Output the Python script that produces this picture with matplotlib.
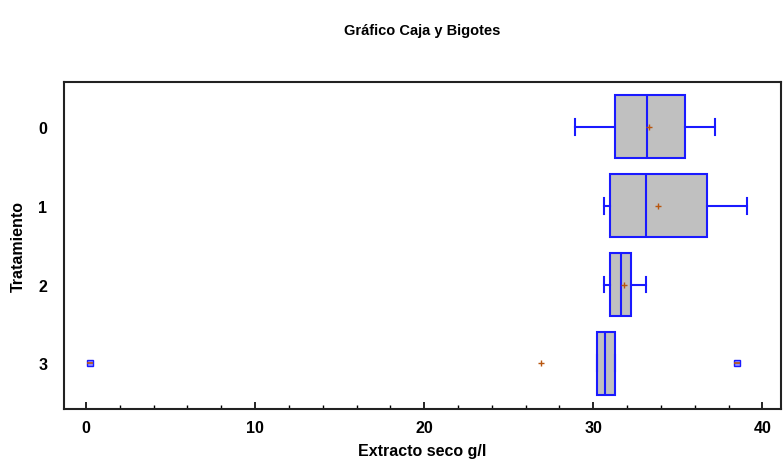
import matplotlib
matplotlib.use("Agg")
import matplotlib.pyplot as plt
from matplotlib.ticker import MultipleLocator

plt.rcParams['font.family'] = ['Liberation Sans', 'DejaVu Sans']

groups = ["0", "1", "2", "3"]
whislo = [28.9, 30.65, 30.65, 30.2]
q1 = [31.3, 31.0, 31.0, 30.2]
med = [33.2, 33.1, 31.65, 30.7]
q3 = [35.4, 36.75, 32.25, 31.3]
whishi = [37.2, 39.1, 33.1, 31.3]
means = [33.3, 33.8, 31.8, 26.9]
outliers = [[], [], [], [0.25, 38.5]]

fig = plt.figure(figsize=(7.83, 4.64), dpi=100)
ax = fig.add_axes([64/783, 54/464, 717/783, 327/464])

stats = []
for i in range(len(groups)):
    stats.append(dict(whislo=whislo[i], q1=q1[i], med=med[i], q3=q3[i],
                      whishi=whishi[i], mean=means[i], fliers=[], label=groups[i]))

pos = list(range(len(groups)))
blue = '#1a1aff'
ax.bxp(stats, positions=pos, vert=False, widths=0.8, patch_artist=True,
       showmeans=False, showfliers=False,
       boxprops=dict(facecolor='#c0c0c0', edgecolor=blue, linewidth=1.5),
       medianprops=dict(color=blue, linewidth=1.5),
       whiskerprops=dict(color=blue, linewidth=1.5),
       capprops=dict(color=blue, linewidth=1.5),
       capwidths=0.2)

ax.plot(means, pos, linestyle='none', marker='+', color='#b8560f',
        markersize=5, markeredgewidth=1.0, zorder=5)
for i, ol in enumerate(outliers):
    for v in ol:
        ax.plot([v], [pos[i]], linestyle='none', marker='s', markersize=5,
                markerfacecolor='#9090ff', markeredgecolor=blue, markeredgewidth=1, zorder=5)
        ax.plot([v], [pos[i]], linestyle='none', marker='_', markersize=4,
                color='#b8560f', markeredgewidth=1.2, zorder=6)

ax.set_xlim(-1.3, 41.1)
ax.set_ylim(3.58, -0.57)
ax.set_yticks(pos)
ax.set_yticklabels(groups)
ax.xaxis.set_major_locator(MultipleLocator(10))
ax.xaxis.set_minor_locator(MultipleLocator(2))
ax.tick_params(axis='x', which='major', direction='in', length=5, width=1.2,
               labelsize=11.5, pad=8)
ax.tick_params(axis='x', which='minor', direction='in', length=3, width=1)
ax.tick_params(axis='y', length=0, labelsize=11.5, pad=12)
for lab in ax.get_xticklabels() + ax.get_yticklabels():
    lab.set_fontweight('bold')
for s in ax.spines.values():
    s.set_linewidth(1.5)
    s.set_color('#222222')

ax.set_xlabel("Extracto seco g/l", fontsize=11.5, fontweight='bold', labelpad=6)
ax.set_ylabel("Tratamiento", fontsize=11.5, fontweight='bold')
ax.yaxis.set_label_coords((26 - 64) / 717, 0.5)
fig.text((64 + 781) / 2 / 783, 1 - 31/464, "Gráfico Caja y Bigotes", ha='center', va='center',
         fontsize=10.5, fontweight='bold')

fig.savefig("out.png", dpi=100)
